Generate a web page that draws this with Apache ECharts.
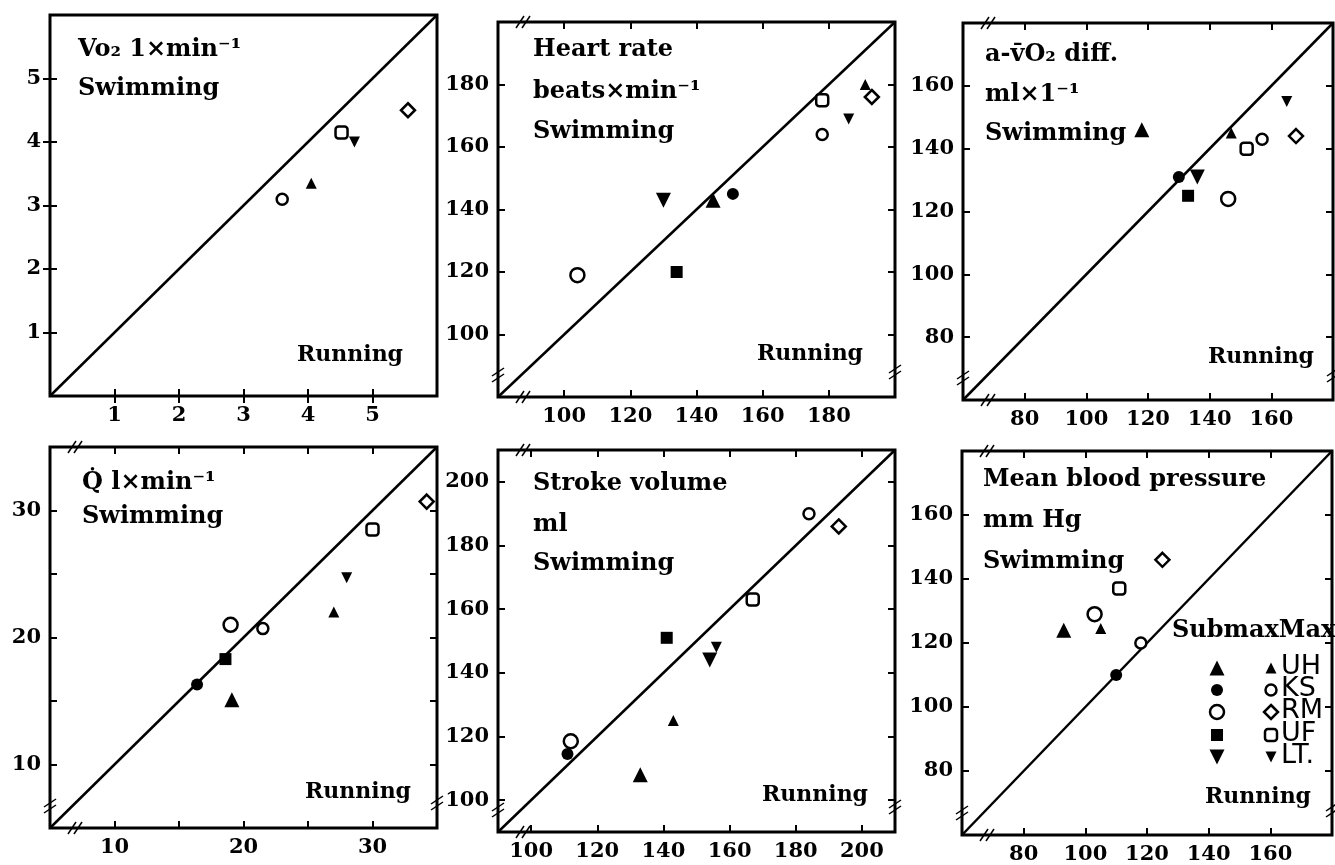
<!DOCTYPE html>
<html>
<head>
<meta charset="utf-8">
<script src="https://cdn.jsdelivr.net/npm/echarts@6/dist/echarts.min.js"></script>
<style>
html, body { margin: 0; background: #fff; }
#chart { width: 1335px; height: 865px; }
</style>
</head>
<body>
<div id="chart"></div>
<script>
// each point: [running, swimming, subject, S = submax / M = max]
var vo2Pts = [[3.6, 3.1, 'KS', 'M'], [4.05, 3.35, 'UH', 'M'], [4.52, 4.15, 'UF', 'M'], [4.72, 4.0, 'LT', 'M'], [5.55, 4.5, 'RM', 'M']];
var hrPts = [[104, 119, 'RM', 'S'], [130, 143, 'LT', 'S'], [134, 120, 'UF', 'S'], [145, 143, 'UH', 'S'], [151, 145, 'KS', 'S'],
             [178, 175, 'UF', 'M'], [178, 164, 'KS', 'M'], [186, 169, 'LT', 'M'], [191, 180, 'UH', 'M'], [193, 176, 'RM', 'M']];
var avoPts = [[118, 146, 'UH', 'S'], [130, 131, 'KS', 'S'], [133, 125, 'UF', 'S'], [136, 131, 'LT', 'S'], [146, 124, 'RM', 'S'],
              [147, 145, 'UH', 'M'], [152, 140, 'UF', 'M'], [157, 143, 'KS', 'M'], [168, 144, 'RM', 'M'], [165, 155, 'LT', 'M']];
var qPts = [[16.4, 16.3, 'KS', 'S'], [18.6, 18.3, 'UF', 'S'], [19.1, 15.1, 'UH', 'S'], [19, 21, 'RM', 'S'],
            [21.5, 20.7, 'KS', 'M'], [27, 22, 'UH', 'M'], [28, 24.7, 'LT', 'M'], [30, 28.5, 'UF', 'M'], [34.2, 30.7, 'RM', 'M']];
var svPts = [[112, 118.5, 'RM', 'S'], [111, 114.5, 'KS', 'S'], [133, 108, 'UH', 'S'], [141, 151, 'UF', 'S'], [154, 144, 'LT', 'S'],
             [143, 125, 'UH', 'M'], [156, 148, 'LT', 'M'], [167, 163, 'UF', 'M'], [184, 190, 'KS', 'M'], [193, 186, 'RM', 'M']];
var bpPts = [[93, 124, 'UH', 'S'], [103, 129, 'RM', 'S'], [110, 110, 'KS', 'S'],
             [105, 124.5, 'UH', 'M'], [111, 137, 'UF', 'M'], [118, 120, 'KS', 'M'], [125, 146, 'RM', 'M']];

var vo2Range = [0, 6], hrRange = [80, 200], avoRange = [60, 180];
var qRange = [5, 35], svRange = [90, 210], bpRange = [60, 180];
var vo2Ticks = [1, 2, 3, 4, 5];
var hrTicks = [100, 120, 140, 160, 180];
var avoTicks = [80, 100, 120, 140, 160];
var qTicks = [10, 15, 20, 25, 30];
var qLabels = [10, 20, 30];
var svTicks = [100, 120, 140, 160, 180, 200];
var bpTicks = [80, 100, 120, 140, 160];

var subjects = ['UH', 'KS', 'RM', 'UF', 'LT'];

var markers = {
    UH_S: { sym: 'triangle', size: 15 },
    KS_S: { sym: 'circle', size: 12 },
    RM_S: { sym: 'circle', size: 14, open: true },
    UF_S: { sym: 'rect', size: 12 },
    LT_S: { sym: 'triangle', size: 15, rot: 180 },
    UH_M: { sym: 'triangle', size: 11 },
    KS_M: { sym: 'circle', size: 11, open: true },
    RM_M: { sym: 'diamond', size: 14, open: true },
    UF_M: { sym: 'roundRect', size: 12, open: true },
    LT_M: { sym: 'triangle', size: 11, rot: 180 }
};

var serif = 'DejaVu Serif';

var panels = [
    { pts: vo2Pts, range: vo2Range, ticks: vo2Ticks, labels: vo2Ticks, box: [50, 15, 387, 381],
      title: ['Vo\u2082 1\u00d7min\u207b\u00b9', 'Swimming'], tx: 78, ty: [38, 77], run: [297, 344], brk: false },
    { pts: hrPts, range: hrRange, ticks: hrTicks, labels: hrTicks, box: [498, 22, 397, 375],
      title: ['Heart rate', 'beats\u00d7min\u207b\u00b9', 'Swimming'], tx: 533, ty: [38, 80, 120], run: [757, 343], brk: true },
    { pts: avoPts, range: avoRange, ticks: avoTicks, labels: avoTicks, box: [963, 23, 370, 377],
      title: ['a-v\u0304O\u2082 diff.', 'ml\u00d71\u207b\u00b9', 'Swimming'], tx: 985, ty: [43, 83, 122], run: [1208, 346], brk: true },
    { pts: qPts, range: qRange, ticks: qTicks, labels: qLabels, box: [50, 447, 387, 381],
      title: ['Q\u0307 l\u00d7min\u207b\u00b9', 'Swimming'], tx: 82, ty: [471, 505], run: [305, 781], brk: true },
    { pts: svPts, range: svRange, ticks: svTicks, labels: svTicks, box: [498, 450, 397, 382],
      title: ['Stroke volume', 'ml', 'Swimming'], tx: 533, ty: [472, 513, 552], run: [762, 784], brk: true },
    { pts: bpPts, range: bpRange, ticks: bpTicks, labels: bpTicks, box: [962, 451, 370, 384],
      title: ['Mean blood pressure', 'mm Hg', 'Swimming'], tx: 983, ty: [468, 509, 550], run: [1205, 786], brk: true }
];

function pointItem(p) {
    var m = markers[p[2] + '_' + p[3]];
    return {
        value: [p[0], p[1]],
        symbol: m.sym,
        symbolSize: m.size,
        symbolRotate: m.rot || 0,
        itemStyle: {
            opacity: 1,
            color: m.open ? '#fff' : '#000',
            borderColor: '#000',
            borderWidth: m.open ? 2.5 : 0
        }
    };
}

function makeAxis(p, i, pos, showLabel) {
    return {
        type: 'value',
        gridIndex: i,
        position: pos,
        min: p.range[0],
        max: p.range[1],
        splitLine: { show: false },
        axisLine: { show: false },
        axisTick: { inside: true, length: 7, lineStyle: { color: '#000', width: 2 }, customValues: p.ticks },
        axisLabel: {
            show: showLabel,
            customValues: p.labels,
            margin: 9,
            color: '#000',
            fontFamily: serif,
            fontSize: 21,
            fontWeight: 'bold'
        }
    };
}

// small "//" axis-break mark crossing a frame edge
function breakMark(x, y, vertical) {
    var out = [];
    [-3, 3].forEach(function (o) {
        var shape = vertical
            ? { x1: x - 6, y1: y + o + 4, x2: x + 6, y2: y + o - 4 }
            : { x1: x + o - 4, y1: y + 6, x2: x + o + 4, y2: y - 6 };
        out.push({ type: 'line', shape: shape, style: { stroke: '#000', lineWidth: 1.5 }, z: 10 });
    });
    return out;
}

var grids = [], xAxes = [], yAxes = [], series = [], graphics = [];

panels.forEach(function (p, i) {
    var b = p.box;
    grids.push({
        left: b[0], top: b[1], width: b[2], height: b[3],
        show: true, borderColor: '#000', borderWidth: 3, backgroundColor: 'transparent'
    });
    xAxes.push(makeAxis(p, i, 'bottom', true));
    xAxes.push(makeAxis(p, i, 'top', false));
    yAxes.push(makeAxis(p, i, 'left', true));
    yAxes.push(makeAxis(p, i, 'right', false));

    // line of identity
    series.push({
        type: 'line',
        xAxisIndex: 2 * i,
        yAxisIndex: 2 * i,
        data: [[p.range[0], p.range[0]], [p.range[1], p.range[1]]],
        symbol: 'none',
        silent: true,
        lineStyle: { color: '#000', width: 2.5 },
        z: 2
    });
    series.push({
        type: 'scatter',
        xAxisIndex: 2 * i,
        yAxisIndex: 2 * i,
        data: p.pts.map(pointItem),
        z: 3
    });

    p.title.forEach(function (t, k) {
        graphics.push({
            type: 'text', left: p.tx, top: p.ty[k],
            style: { text: t, fill: '#000', font: 'bold 24px "' + serif + '"' }
        });
    });
    graphics.push({
        type: 'text', left: p.run[0], top: p.run[1],
        style: { text: 'Running', fill: '#000', font: 'bold 22px "' + serif + '"' }
    });

    if (p.brk) {
        graphics = graphics.concat(
            breakMark(b[0] + 25, b[1] + b[3], false),
            breakMark(b[0] + 25, b[1], false),
            breakMark(b[0], b[1] + b[3] - 22, true),
            breakMark(b[0] + b[2], b[1] + b[3] - 25, true)
        );
    }
});

// legend glyphs (bottom-right panel)
function glyph(key, cx, cy) {
    var m = markers[key];
    var s = m.size;
    var style = { fill: m.open ? '#fff' : '#000', stroke: '#000', lineWidth: m.open ? 2.5 : 0 };
    if (m.sym === 'triangle') {
        var d = m.rot ? -1 : 1;
        return { type: 'polygon', shape: { points: [[cx, cy - d * s / 2], [cx + s / 2, cy + d * s / 2], [cx - s / 2, cy + d * s / 2]] }, style: style };
    }
    if (m.sym === 'circle') return { type: 'circle', shape: { cx: cx, cy: cy, r: s / 2 }, style: style };
    if (m.sym === 'diamond') return { type: 'polygon', shape: { points: [[cx, cy - s / 2], [cx + s / 2, cy], [cx, cy + s / 2], [cx - s / 2, cy]] }, style: style };
    return { type: 'rect', shape: { x: cx - s / 2, y: cy - s / 2, width: s, height: s, r: m.sym === 'roundRect' ? 3 : 0 }, style: style };
}

graphics.push({
    type: 'text', left: 1172, top: 619,
    style: { text: 'SubmaxMax', fill: '#000', font: 'bold 24px "' + serif + '"' }
});
var legendRows = [668, 690, 712, 735, 757];
subjects.forEach(function (s, k) {
    graphics.push(glyph(s + '_S', 1217, legendRows[k]));
    graphics.push(glyph(s + '_M', 1271, legendRows[k]));
    graphics.push({
        type: 'text', left: 1281, top: legendRows[k] - 15,
        style: { text: s + (s === 'LT' ? '.' : ''), fill: '#000', font: '27px "DejaVu Sans"' }
    });
});

var chart = echarts.init(document.getElementById('chart'));
chart.setOption({
    animation: false,
    backgroundColor: '#fff',
    grid: grids,
    xAxis: xAxes,
    yAxis: yAxes,
    series: series,
    graphic: graphics
});
</script>
</body>
</html>
